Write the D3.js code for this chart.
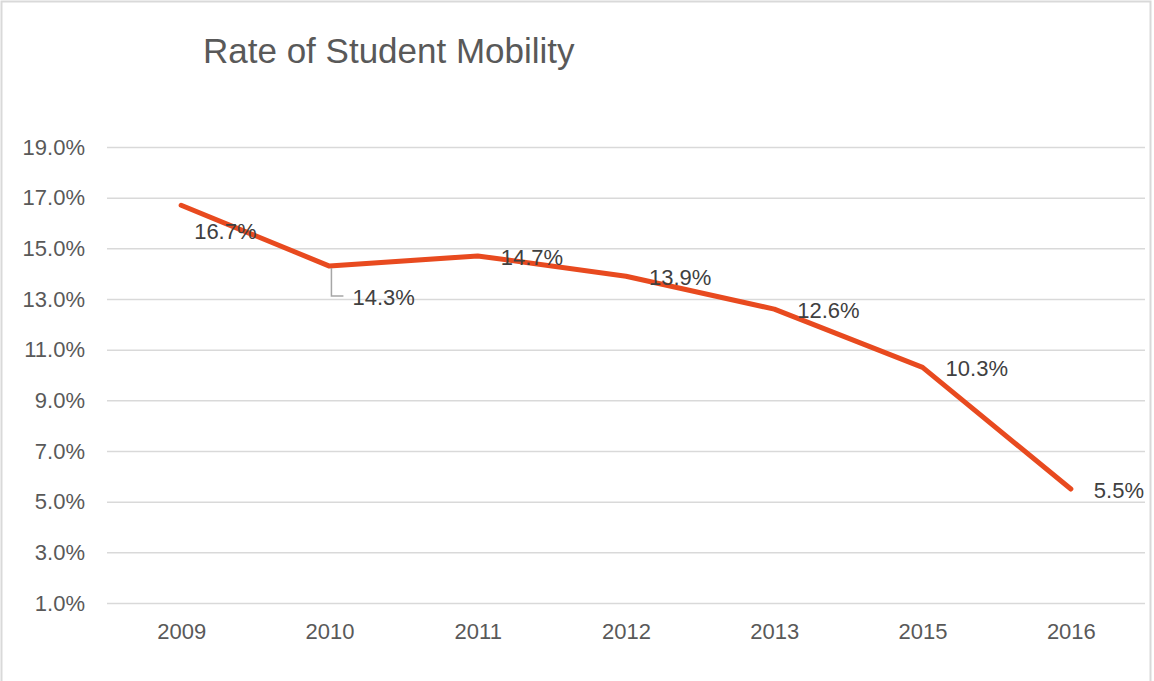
<!DOCTYPE html>
<html>
<head>
<meta charset="utf-8">
<script src="https://cdn.jsdelivr.net/npm/d3@7"></script>
<style>
  body { margin: 0; background: #fff; }
  text { font-family: "Liberation Sans", Arial, sans-serif; }
</style>
</head>
<body>
<svg id="chart" width="1154" height="681"></svg>
<script>
// data
let years = ["2009", "2010", "2011", "2012", "2013", "2015", "2016"]
let mobility = [0.167, 0.143, 0.147, 0.139, 0.126, 0.103, 0.055]
let yTicks = [0.01, 0.03, 0.05, 0.07, 0.09, 0.11, 0.13, 0.15, 0.17, 0.19]

let data = years.map((y, i) => ({ year: y, value: mobility[i] }))

let width = 1154
let height = 681
let margin = { top: 147, right: 9, bottom: 78, left: 107 }
let svg = d3.select("#chart")
let textColor = "#595959"

// chart border
svg.append("rect")
    .attr("x", 1.5)
    .attr("y", 1.5)
    .attr("width", 1149)
    .attr("height", 700)
    .style("fill", "white")
    .style("stroke", "#d9d9d9")
    .style("stroke-width", 2)

let x = d3.scalePoint()
    .domain(years)
    .range([margin.left, width - margin.right])
    .padding(0.5)

let y = d3.scaleLinear()
    .domain([0.01, 0.19])
    .range([height - margin.bottom, margin.top])

let yAxisSettings = d3.axisLeft(y)
    .tickValues(yTicks)
    .tickSize(-(width - margin.left - margin.right))
    .tickFormat(d3.format(".1%"))
    .tickPadding(22)

let yAxisTicks = svg.append("g")
    .attr("class", "y axis")
    .attr("transform", `translate(${margin.left},0)`)
    .call(yAxisSettings)

yAxisTicks.select(".domain").remove()
yAxisTicks.selectAll("line")
    .style("stroke", "#d9d9d9")
    .style("stroke-width", 1.5)
yAxisTicks.selectAll("text")
    .style("fill", textColor)
    .style("font-size", "22px")

let xAxisSettings = d3.axisBottom(x)
    .tickSize(0)
    .tickPadding(20)

let xAxisTicks = svg.append("g")
    .attr("class", "x axis")
    .attr("transform", `translate(0,${height - margin.bottom})`)
    .call(xAxisSettings)

xAxisTicks.select(".domain").remove()
xAxisTicks.selectAll("text")
    .style("fill", textColor)
    .style("font-size", "22px")

let line = d3.line()
    .x(d => x(d.year))
    .y(d => y(d.value))

svg.append("path")
    .datum(data)
    .attr("d", line)
    .style("fill", "none")
    .style("stroke", "#e84a1f")
    .style("stroke-width", 5)
    .style("stroke-linecap", "round")
    .style("stroke-linejoin", "round")

// label nudges (Excel "right" position, two of them dragged by hand)
let nudge = {
  "2009": [13, 34],
  "2010": [23, 39],
  default: [23, 9]
}

// leader line for the dragged 2010 label
let p2010 = data[1]
let lx = x(p2010.year) + 2
let ly = y(p2010.value) + 2
svg.append("path")
    .attr("d", `M${lx},${ly} V${ly + 28} H${lx + 12}`)
    .style("fill", "none")
    .style("stroke", "#a6a6a6")
    .style("stroke-width", 1.5)

svg.append("g")
    .selectAll("text")
    .data(data)
    .join("text")
    .attr("x", d => x(d.year) + (nudge[d.year] || nudge.default)[0])
    .attr("y", d => y(d.value) + (nudge[d.year] || nudge.default)[1])
    .style("fill", "#404040")
    .style("font-size", "22px")
    .text(d => d3.format(".1%")(d.value))

svg.append("text")
    .attr("x", 203)
    .attr("y", 63)
    .style("fill", textColor)
    .style("font-size", "35px")
    .text("Rate of Student Mobility")
</script>
</body>
</html>
